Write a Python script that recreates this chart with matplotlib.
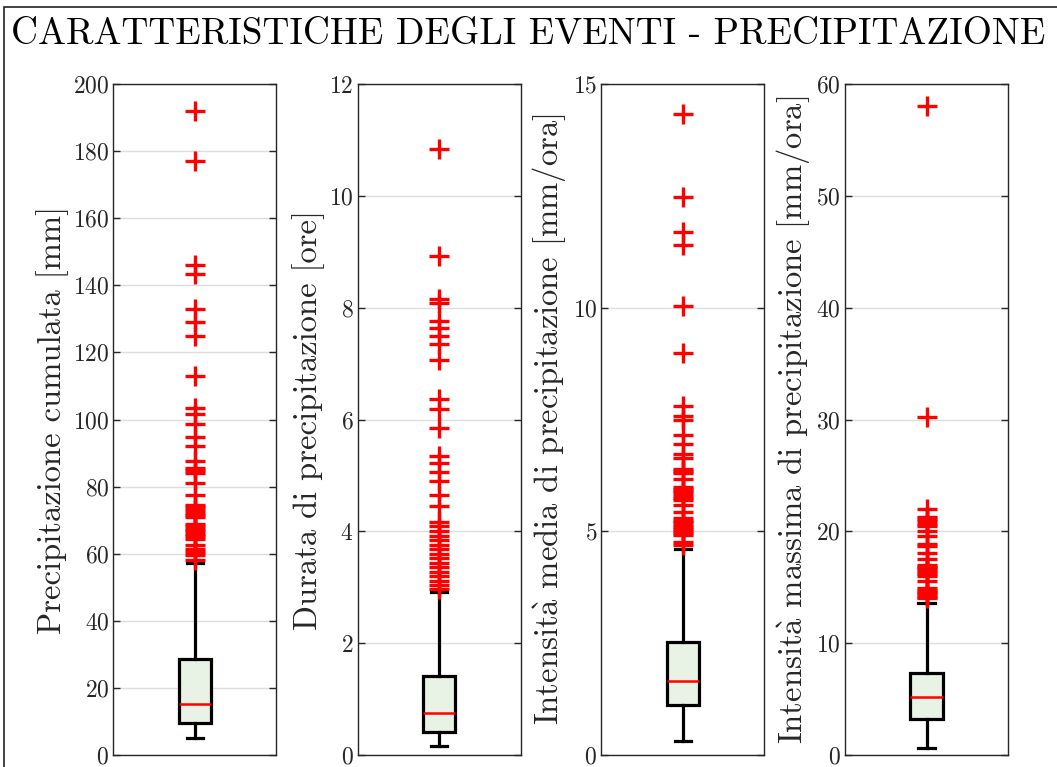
import matplotlib
matplotlib.use("Agg")
import matplotlib.pyplot as plt
from matplotlib.patches import Rectangle

plt.rcParams['font.family'] = ['cmr10', 'DejaVu Serif']
plt.rcParams['mathtext.fontset'] = 'cm'
plt.rcParams['axes.formatter.use_mathtext'] = True

title = "CARATTERISTICHE DEGLI EVENTI - PRECIPITAZIONE"
ylabels = [
    "Precipitazione cumulata [mm]",
    "Durata di precipitazione [ore]",
    r"Intensit$\mathrm{\grave{a}}$ media di precipitazione [mm/ora]",
    r"Intensit$\mathrm{\grave{a}}$ massima di precipitazione [mm/ora]",
]
ylims = [(0, 200), (0, 12), (0, 15), (0, 60)]
yticks = [
    [0, 20, 40, 60, 80, 100, 120, 140, 160, 180, 200],
    [0, 2, 4, 6, 8, 10, 12],
    [0, 5, 10, 15],
    [0, 10, 20, 30, 40, 50, 60],
]

# box statistics: lower whisker, Q1, median, Q3, upper whisker
whislo = [5.0, 0.16, 0.31, 0.6]
q1 = [9.4, 0.41, 1.12, 3.2]
med = [15.3, 0.75, 1.66, 5.2]
q3 = [28.7, 1.42, 2.53, 7.37]
whishi = [57.1, 2.92, 4.6, 13.6]

fliers_cum = [192, 177, 146, 143.3, 133, 129, 125, 113, 103.5, 101.5, 98.7,
              94.8, 92, 87.6, 85.5, 84.8, 84, 81, 77.5, 74.5, 73.8, 73, 72.2,
              71.5, 71, 69, 68.3, 67.5, 66.7, 66, 65.2, 64.5, 62.5, 61.5,
              60.5, 59.5, 58]
fliers_dur = [10.84, 8.92, 8.16, 8.08, 7.76, 7.64, 7.5, 7.35, 7.07, 6.37, 6.19,
              5.84, 5.34, 5.22, 5.06, 4.9, 4.65, 4.45, 4.17, 4.09, 4.0, 3.92,
              3.84, 3.76, 3.68, 3.6, 3.52, 3.44, 3.36, 3.28, 3.2, 3.12, 3.04,
              2.97]
fliers_med = [14.33, 12.47, 11.69, 11.4, 10.04, 8.99, 7.8, 7.57, 7.5, 7.15,
              6.96, 6.72, 6.63, 6.4, 6.34, 6.3, 6.18, 5.99, 5.94, 5.9, 5.85,
              5.8, 5.75, 5.7, 5.58, 5.43, 5.29, 5.24, 5.2, 5.15, 5.1, 5.05,
              5.0, 4.96, 4.92, 4.76, 4.69]
fliers_max = [58.0, 30.2, 22.0, 21.3, 21.1, 20.9, 20.7, 20.5, 20.0, 19.55,
              18.9, 18.65, 18.1, 17.5, 17.0, 16.85, 16.7, 16.55, 16.4, 16.2,
              16.0, 15.6, 14.9, 14.75, 14.6, 14.45, 14.3, 14.15, 14.0]
fliers = [fliers_cum, fliers_dur, fliers_med, fliers_max]

W, H = 1057, 767
fig = plt.figure(figsize=(W / 100, H / 100), dpi=100)

# figure border
fig.patches.append(Rectangle((4 / W, -0.05), 1.2, (H - 7) / H + 0.05,
                             transform=fig.transFigure, fill=False,
                             edgecolor='#222222', linewidth=1.2, zorder=0))

fig.text(0.5, 1 - 34 / H, title, ha='center', va='center', fontsize=26.9)

lefts = [113.3, 357.5, 601.3, 845.0]
aw = 163.0
top, bottom = 84.0, 755.0

for i in range(4):
    ax = fig.add_axes([lefts[i] / W, 1 - bottom / H, aw / W, (bottom - top) / H])
    stats = [dict(whislo=whislo[i], q1=q1[i], med=med[i], q3=q3[i],
                  whishi=whishi[i], fliers=fliers[i])]
    ax.bxp(stats, positions=[1], widths=0.2, capwidths=0.1, patch_artist=True,
           boxprops=dict(facecolor='#e8f2e5', edgecolor='black', linewidth=2.3),
           whiskerprops=dict(color='black', linewidth=2.3),
           capprops=dict(color='black', linewidth=2.3),
           medianprops=dict(color='red', linewidth=1.8),
           flierprops=dict(marker='+', markeredgecolor='red',
                           markersize=14, markeredgewidth=2.4,
                           linestyle='none'))
    ax.set_xlim(0.5, 1.5)
    ax.set_ylim(*ylims[i])
    ax.set_yticks(yticks[i])
    ax.set_xticks([])
    ax.yaxis.grid(True, color='#dddddd', linewidth=1.0)
    ax.set_axisbelow(True)
    ax.tick_params(axis='y', direction='in', left=True, right=True,
                   length=5, width=1.0, color='#262626', labelsize=17,
                   labelcolor='#262626', pad=3)
    for s in ax.spines.values():
        s.set_color('#262626')
        s.set_linewidth(1.0)
    ax.set_ylabel(ylabels[i], fontsize=23.5, color='#262626', labelpad=3)

fig.savefig("out.png", dpi=100)
